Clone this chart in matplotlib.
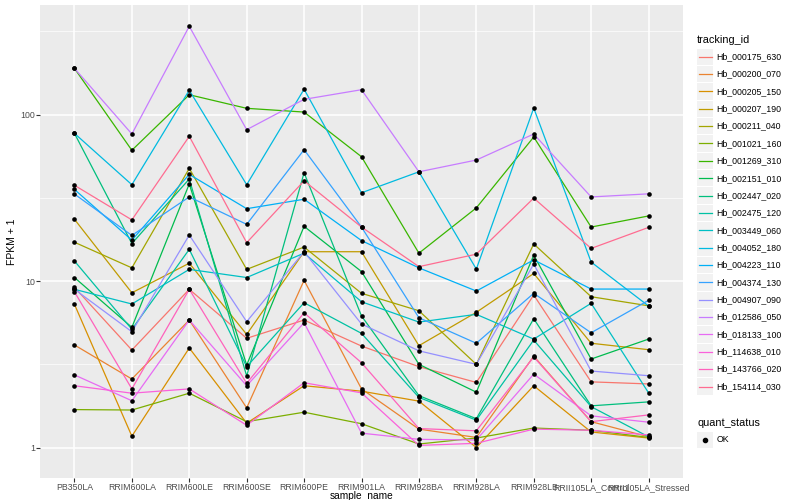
import matplotlib
matplotlib.use("Agg")
import matplotlib.pyplot as plt
import numpy as np
from matplotlib.lines import Line2D
from matplotlib.patches import Rectangle
from matplotlib.ticker import NullFormatter

samples = ["PB350LA", "RRIM600LA", "RRIM600LE", "RRIM600SE", "RRIM600PE",
           "RRIM901LA", "RRIM928BA", "RRIM928LA", "RRIM928LB",
           "RRII105LA_Control", "RRII105LA_Stressed"]

# FPKM + 1 per gene, one value per sample
hb_000175_630 = [9.17, 3.85, 8.92, 4.53, 5.83, 4.07, 3.06, 2.46, 8.24, 2.48, 2.41]
hb_000200_070 = [4.13, 2.58, 5.83, 1.73, 10.1, 2.25, 1.29, 1.15, 3.54, 1.43, 1.16]
hb_000205_150 = [7.25, 1.17, 3.96, 1.40, 2.35, 2.18, 1.90, 1.00, 2.35, 1.24, 1.14]
hb_000207_190 = [23.5, 8.5, 12.8, 4.78, 15.0, 15.0, 4.09, 6.49, 11.1, 4.23, 3.87]
hb_000211_040 = [17.1, 12.0, 47.5, 11.75, 16.0, 8.44, 6.63, 3.16, 16.7, 8.05, 7.1]
hb_001021_160 = [1.69, 1.68, 2.12, 1.43, 1.63, 1.39, 1.05, 1.14, 1.31, 1.27, 1.15]
hb_001269_310 = [189.5, 61.0, 131.5, 109.0, 103.5, 55.8, 14.7, 27.5, 73.3, 21.1, 24.6]
hb_002151_010 = [10.5, 5.27, 38.3, 3.13, 21.3, 11.4, 3.16, 2.15, 14.3, 3.40, 4.48]
hb_002447_020 = [77.1, 16.8, 41.0, 2.69, 44.7, 6.17, 2.05, 1.49, 5.94, 1.78, 1.88]
hb_002475_120 = [13.2, 5.13, 15.5, 3.06, 7.41, 4.85, 2.00, 1.46, 4.42, 1.76, 1.16]
hb_003449_060 = [8.92, 7.28, 11.75, 10.5, 14.7, 7.51, 5.67, 6.31, 4.48, 7.35, 2.13]
hb_004052_180 = [77.1, 37.9, 140.0, 37.9, 142.0, 33.9, 45.3, 11.8, 109.4, 13.0, 7.08]
hb_004223_110 = [35.5, 17.6, 43.7, 27.2, 31.0, 17.5, 12.0, 8.71, 13.4, 8.95, 8.95]
hb_004374_130 = [33.3, 18.8, 32.0, 21.9, 61.5, 21.1, 6.02, 4.23, 8.44, 4.89, 7.66]
hb_004907_090 = [8.92, 4.96, 18.9, 5.70, 15.0, 5.52, 3.81, 3.16, 12.65, 2.88, 2.70]
hb_012586_050 = [189.5, 76.4, 339.0, 81.1, 123.4, 141.0, 45.3, 53.3, 76.4, 32.0, 33.4]
hb_018133_100 = [2.73, 1.91, 5.83, 2.35, 5.62, 1.22, 1.12, 1.11, 2.76, 1.55, 1.42]
hb_114638_010 = [2.35, 2.12, 2.25, 1.36, 2.45, 2.13, 1.03, 1.06, 1.29, 1.27, 1.19]
hb_143766_020 = [8.62, 2.25, 8.92, 2.43, 6.45, 3.23, 1.30, 1.26, 3.50, 1.43, 1.57]
hb_154114_030 = [37.6, 23.3, 74.0, 17.0, 40.0, 21.1, 12.2, 14.5, 31.5, 15.7, 21.0]

tracking_ids = ["Hb_000175_630", "Hb_000200_070", "Hb_000205_150", "Hb_000207_190",
                "Hb_000211_040", "Hb_001021_160", "Hb_001269_310", "Hb_002151_010",
                "Hb_002447_020", "Hb_002475_120", "Hb_003449_060", "Hb_004052_180",
                "Hb_004223_110", "Hb_004374_130", "Hb_004907_090", "Hb_012586_050",
                "Hb_018133_100", "Hb_114638_010", "Hb_143766_020", "Hb_154114_030"]
series = [hb_000175_630, hb_000200_070, hb_000205_150, hb_000207_190,
          hb_000211_040, hb_001021_160, hb_001269_310, hb_002151_010,
          hb_002447_020, hb_002475_120, hb_003449_060, hb_004052_180,
          hb_004223_110, hb_004374_130, hb_004907_090, hb_012586_050,
          hb_018133_100, hb_114638_010, hb_143766_020, hb_154114_030]

# ggplot2 default hue palette for 20 levels
palette = ["#F8766D", "#EA8331", "#D89000", "#C09B00", "#A3A500", "#7CAE00",
           "#39B600", "#00BB4E", "#00BF7D", "#00C1A3", "#00BFC4", "#00BAE0",
           "#00B0F6", "#35A2FF", "#9590FF", "#C77CFF", "#E76BF3", "#FA62DB",
           "#FF62BC", "#FF6C91"]

plt.rcParams["font.family"] = ["Liberation Sans", "DejaVu Sans"]

W, H = 800, 500
fig = plt.figure(figsize=(W / 100, H / 100), dpi=100)
ax = fig.add_axes([40 / W, 1 - 478 / H, 643 / W, 473 / H])
ax.set_facecolor("#EBEBEB")

x = np.arange(len(samples))
for vals, col in zip(series, palette):
    ax.plot(x, vals, color=col, lw=0.9, zorder=3)
for vals in series:
    ax.scatter(x, vals, s=11, color="black", marker="o", linewidths=0, zorder=4)

ax.set_yscale("log")
ax.set_ylim(10 ** -0.183, 10 ** 2.658)
ax.set_xlim(-0.6, len(samples) - 0.4)
ax.set_xticks(x)
ax.set_xticklabels(samples)
ax.set_yticks([1, 10, 100])
ax.set_yticklabels(["1", "10", "100"])
ax.set_yticks([10 ** 0.5, 10 ** 1.5, 10 ** 2.5], minor=True)
ax.yaxis.set_minor_formatter(NullFormatter())
ax.grid(which="major", color="white", lw=1.1)
ax.grid(which="minor", axis="y", color="white", lw=0.5)
ax.set_axisbelow(True)
for s in ax.spines.values():
    s.set_visible(False)
ax.tick_params(axis="both", which="major", length=2.7, width=0.8, color="#333333",
               labelcolor="#4D4D4D", labelsize=6.3, pad=1)
ax.tick_params(which="minor", length=0)
ax.set_xlabel("sample_name", fontsize=7.3)
ax.xaxis.set_label_coords(0.5, -13.2 / 473)
ax.set_ylabel("FPKM + 1", fontsize=7.5)
ax.yaxis.set_label_coords(-23 / 643, 0.5)


# legend drawn by hand in pixel coordinates
def fx(px):
    return px / W


def fy(py):
    return 1 - py / H


fig.text(fx(697), fy(40), "tracking_id", fontsize=7.8, va="center", ha="left")
step = 17.36
for i, (name, col) in enumerate(zip(tracking_ids, palette)):
    yc = 56.7 + i * step
    fig.add_artist(Rectangle((fx(697), fy(yc + 8.2)), 16 / W, 16.4 / H,
                             transform=fig.transFigure, facecolor="#F2F2F2",
                             edgecolor="none"))
    fig.add_artist(Line2D([fx(698.5), fx(711.5)], [fy(yc), fy(yc)],
                          transform=fig.transFigure, color=col, lw=0.9))
    fig.text(fx(716.5), fy(yc), name, fontsize=6.3, va="center", ha="left")

fig.text(fx(697), fy(423), "quant_status", fontsize=7.8, va="center", ha="left")
fig.add_artist(Rectangle((fx(697), fy(440 + 8.2)), 16 / W, 16.4 / H,
                         transform=fig.transFigure, facecolor="#F2F2F2",
                         edgecolor="none"))
fig.add_artist(Line2D([fx(705)], [fy(440)], transform=fig.transFigure,
                      marker="o", markersize=3, color="black", lw=0))
fig.text(fx(716.5), fy(440), "OK", fontsize=6.3, va="center", ha="left")

fig.savefig("out.png", dpi=100)
